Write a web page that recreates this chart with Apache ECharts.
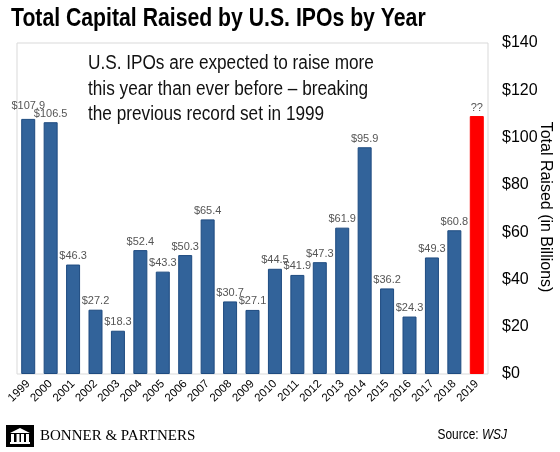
<!DOCTYPE html>
<html><head><meta charset="utf-8">
<script src="https://cdn.jsdelivr.net/npm/echarts@6/dist/echarts.min.js"></script>
<style>html,body{margin:0;padding:0;background:#fff}#c{width:560px;height:452px}</style>
</head><body><div id="c"></div>
<script>
const years = ['1999','2000','2001','2002','2003','2004','2005','2006','2007','2008','2009','2010','2011','2012','2013','2014','2015','2016','2017','2018','2019'];
const values = [107.9,106.5,46.3,27.2,18.3,52.4,43.3,50.3,65.4,30.7,27.1,44.5,41.9,47.3,61.9,95.9,36.2,24.3,49.3,60.8,109.1];
const valueLabels = ['$107.9','$106.5','$46.3','$27.2','$18.3','$52.4','$43.3','$50.3','$65.4','$30.7','$27.1','$44.5','$41.9','$47.3','$61.9','$95.9','$36.2','$24.3','$49.3','$60.8','??'];
const yTicks = [0,20,40,60,80,100,120,140];
const yName = 'Total Raised (in Billions)';

const sans = '"Liberation Sans", Arial, sans-serif';
const chart = echarts.init(document.getElementById('c'), null, {renderer:'canvas'});
const data = values.map((v,i)=>({
  value:v,
  itemStyle: i===values.length-1 ? {color:'#ff0000', borderColor:'#ff0000'} : {color:'#32639a', borderColor:'#1e4b80'},
  label: i===0 ? {distance:7} : undefined
}));
chart.setOption({
  animation:false,
  backgroundColor:'#fff',
  grid:{left:17, right:72, top:43, bottom:78, show:true, borderColor:'#d9d9d9', borderWidth:1,
    containLabel:false, outerBoundsMode:'none'},
  xAxis:{type:'category', data:years, axisLine:{show:false}, axisTick:{show:false},
    axisLabel:{interval:0, rotate:45, fontFamily:sans, fontSize:11.5, color:'#000', margin:8}},
  yAxis:{type:'value', position:'right', min:yTicks[0], max:yTicks[yTicks.length-1], interval:20,
    splitLine:{show:false}, axisLine:{show:false}, axisTick:{show:false},
    axisLabel:{fontFamily:sans, fontSize:16, color:'#000', margin:14, formatter:v=>'$'+v}},
  series:[{type:'bar', data:data, barWidth:14, itemStyle:{borderWidth:1},
    label:{show:true, position:'top', distance:3, fontFamily:sans, fontSize:11, color:'#555',
      formatter:p=>valueLabels[p.dataIndex]}}],
  graphic:[
    {type:'text', x:11, y:6, scaleX:0.816, style:{text:'Total Capital Raised by U.S. IPOs by Year', x:0, y:0,
      align:'left', verticalAlign:'top', font:'bold 26px "Liberation Sans", Arial, sans-serif', fill:'#000'}},
    {type:'text', x:88, y:51, scaleX:0.86, style:{text:'U.S. IPOs are expected to raise more\nthis year than ever before – breaking\nthe previous record set in 1999',
      x:0, y:0, align:'left', verticalAlign:'top', font:'20px "Liberation Sans", Arial, sans-serif', fill:'#111', lineHeight:25.5}},
    {type:'text', x:545, y:207, rotation:-Math.PI/2, style:{text:yName, x:0, y:0, align:'center', verticalAlign:'middle',
      font:'16px "Liberation Sans", Arial, sans-serif', fill:'#000'}},
    {type:'group', x:6, y:425, children:[
      {type:'rect', shape:{x:0,y:0,width:28,height:22}, style:{fill:'#000'}},
      {type:'polygon', shape:{points:[[4,8],[14,3],[24,8]]}, style:{fill:'#fff'}},
      {type:'rect', shape:{x:5,y:9,width:3,height:8}, style:{fill:'#fff'}},
      {type:'rect', shape:{x:10.5,y:9,width:3,height:8}, style:{fill:'#fff'}},
      {type:'rect', shape:{x:15,y:9,width:3,height:8}, style:{fill:'#fff'}},
      {type:'rect', shape:{x:20,y:9,width:3,height:8}, style:{fill:'#fff'}},
      {type:'rect', shape:{x:4,y:17,width:20,height:2}, style:{fill:'#fff'}}
    ]},
    {type:'text', x:40, y:429, style:{text:'BONNER & PARTNERS', x:0, y:0, align:'left', verticalAlign:'top',
      font:'15px "Liberation Serif", "Times New Roman", serif', fill:'#000'}},
    {type:'text', x:507, y:428, scaleX:0.85, style:{x:0, y:0, align:'right', verticalAlign:'top',
      rich:{a:{fontFamily:sans,fontSize:14,fill:'#000'}, b:{fontFamily:sans,fontSize:14,fontStyle:'italic',fill:'#000'}},
      text:'{a|Source: }{b|WSJ}'}}
  ]
});
</script></body></html>
